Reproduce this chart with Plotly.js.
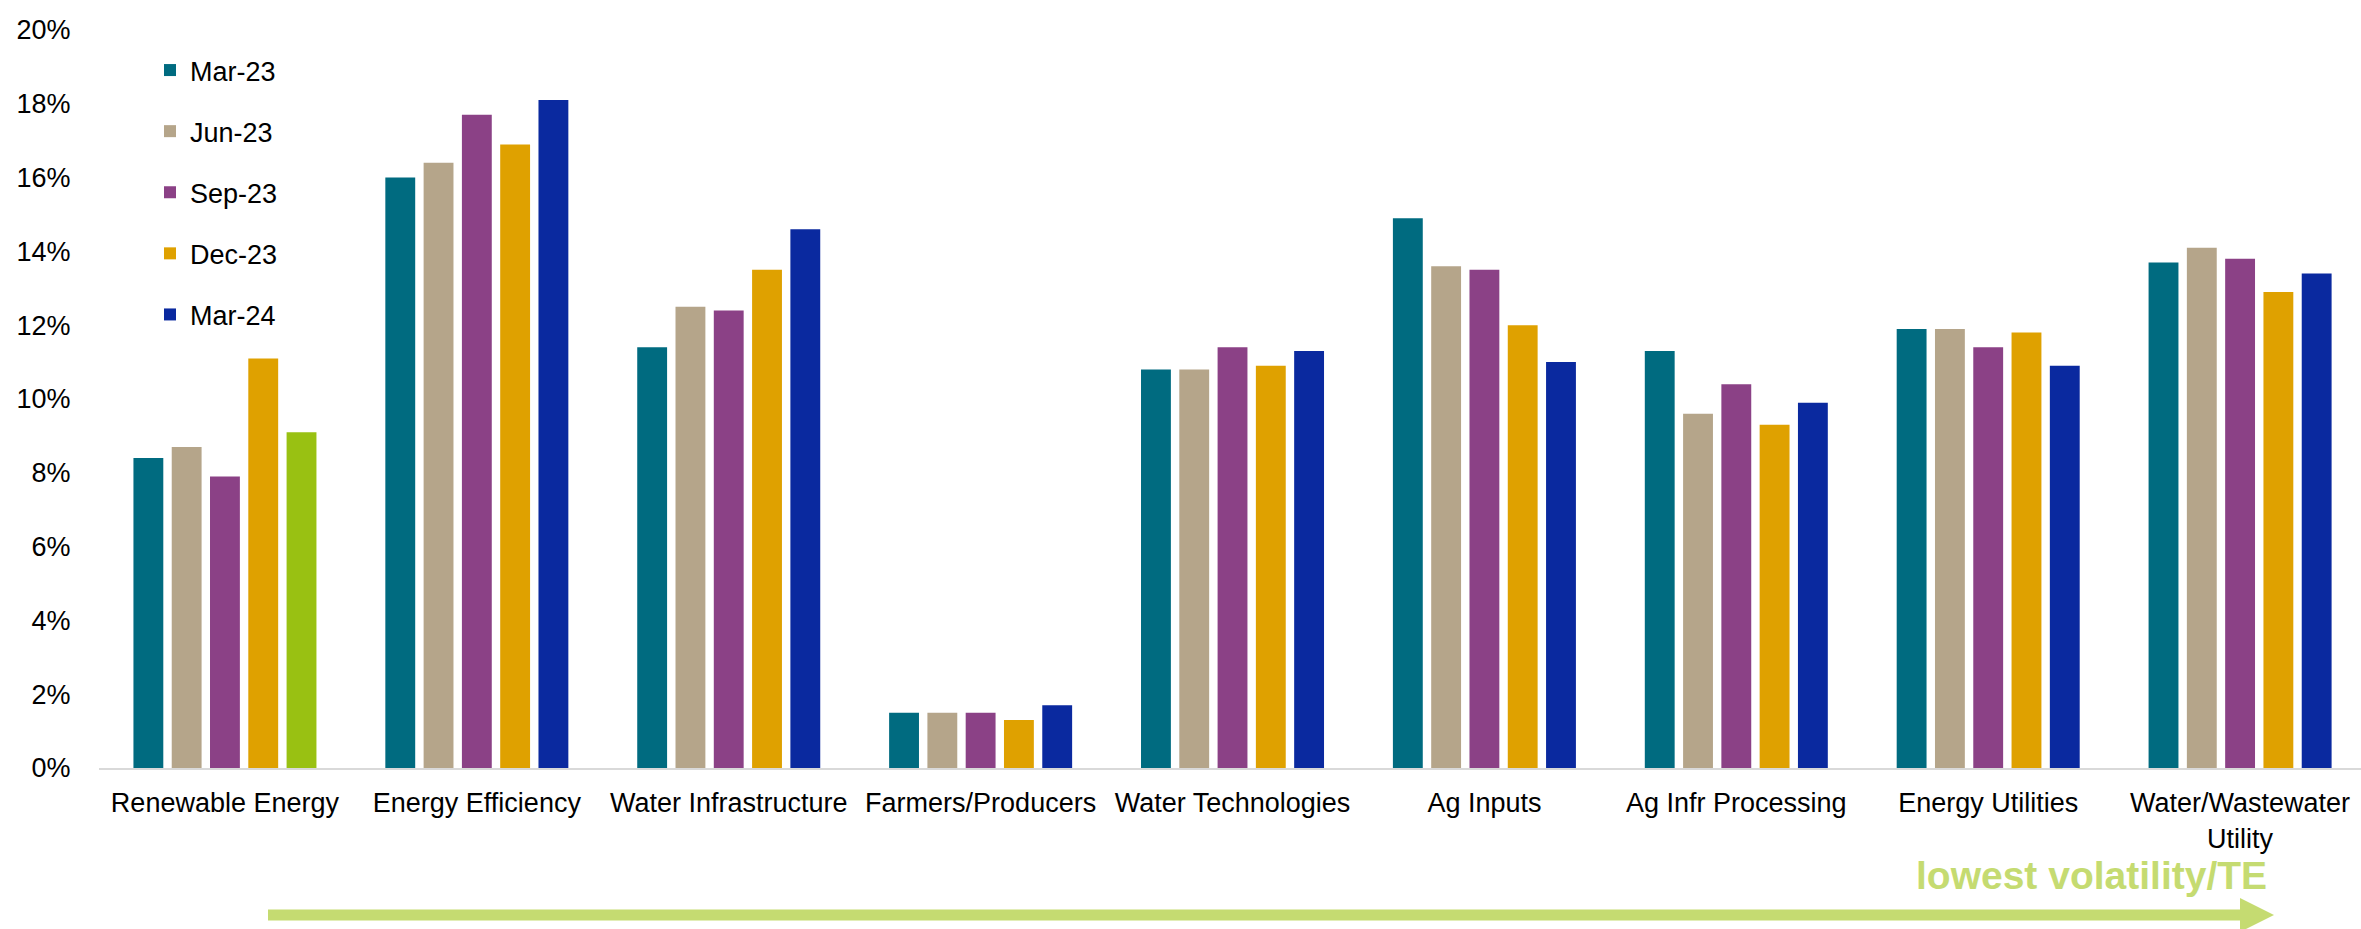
<!DOCTYPE html>
<html>
<head>
<meta charset="utf-8">
<script src="https://cdn.plot.ly/plotly-3.0.1.min.js"></script>
<style>
  html, body { margin: 0; padding: 0; background: #ffffff; }
  #chart { width: 2361px; height: 929px; }
</style>
</head>
<body>
<div id="chart"></div>
<script>
// Sector volatility / tracking error by quarter (in %)
const categories = [
  'Renewable Energy', 'Energy Efficiency', 'Water Infrastructure', 'Farmers/Producers',
  'Water Technologies', 'Ag Inputs', 'Ag Infr Processing', 'Energy Utilities',
  'Water/Wastewater<br>Utility'
];
const seriesNames = ['Mar-23', 'Jun-23', 'Sep-23', 'Dec-23', 'Mar-24'];
const mar23 = [8.4, 16.0, 11.4, 1.5, 10.8, 14.9, 11.3, 11.9, 13.7];
const jun23 = [8.7, 16.4, 12.5, 1.5, 10.8, 13.6, 9.6, 11.9, 14.1];
const sep23 = [7.9, 17.7, 12.4, 1.5, 11.4, 13.5, 10.4, 11.4, 13.8];
const dec23 = [11.1, 16.9, 13.5, 1.3, 10.9, 12.0, 9.3, 11.8, 12.9];
const mar24 = [9.1, 18.1, 14.6, 1.7, 11.3, 11.0, 9.9, 10.9, 13.4];
const highlightCategory = 'Renewable Energy';   // latest bar picked out in green
const yTicks = [0, 2, 4, 6, 8, 10, 12, 14, 16, 18, 20];
const arrowLabel = 'lowest volatility/TE';

// Styling
const COLORS = ['#006B80', '#B5A58A', '#8B4186', '#DFA100', '#0A299F'];
const HIGHLIGHT = '#99C112';
const ARROW_GREEN = '#C5DB71';
const FONT = 'Arial, "Liberation Sans", sans-serif';

const W = 2361, H = 929;
const M = { l: 99, r: 0, t: 30, b: 161 };
const plotW = W - M.l - M.r, plotH = H - M.t - M.b;
const px = x => (x - M.l) / plotW;          // page x -> paper x
const py = y => (H - M.b - y) / plotH;      // page y -> paper y

const values = [mar23, jun23, sep23, dec23, mar24];
const traces = values.map((vals, k) => {
  let idx = categories.map((_, i) => i);
  let color = COLORS[k];
  if (k === values.length - 1) {
    // the highlighted point goes last so the legend swatch keeps the series colour
    const h = categories.indexOf(highlightCategory);
    idx = idx.filter(i => i !== h).concat([h]);
    color = idx.map(i => (i === h ? HIGHLIGHT : COLORS[k]));
  }
  return {
    type: 'bar',
    name: seriesNames[k],
    x: idx.map(i => categories[i]),
    y: idx.map(i => vals[i]),
    legendgroup: 'g' + k,
    marker: { color: color, line: { width: 0 } },
    hoverinfo: 'x+y+name'
  };
});

const layout = {
  width: W, height: H,
  margin: M,
  paper_bgcolor: '#ffffff',
  plot_bgcolor: '#ffffff',
  font: { family: FONT, size: 27, color: '#000000' },
  barmode: 'group',
  bargap: 0.24,
  bargroupgap: 0.22,
  showlegend: true,
  legend: {
    x: px(150), y: py(46), xanchor: 'left', yanchor: 'top',
    bgcolor: 'rgba(0,0,0,0)',
    font: { family: FONT, size: 27, color: '#000000' },
    tracegroupgap: 23,
    traceorder: 'grouped',
    itemclick: false
  },
  xaxis: {
    type: 'category',
    categoryorder: 'array',
    categoryarray: categories,
    range: [-0.5, 8.48],
    showline: true, linecolor: '#D9D9D9', linewidth: 2,
    showgrid: false, zeroline: false,
    ticks: 'outside', ticklen: 10, tickcolor: 'rgba(0,0,0,0)',
    tickangle: 0,
    tickfont: { family: FONT, size: 27, color: '#000000' }
  },
  yaxis: {
    range: [0, 20],
    tickvals: yTicks,
    ticktext: yTicks.map(v => v + '%'),
    showline: false, showgrid: false, zeroline: false,
    ticks: 'outside', ticklen: 22, tickcolor: 'rgba(0,0,0,0)',
    tickfont: { family: FONT, size: 27, color: '#000000' }
  },
  shapes: [
    {
      type: 'line', xref: 'paper', yref: 'paper',
      x0: px(268), x1: px(2242), y0: py(915), y1: py(915),
      line: { color: ARROW_GREEN, width: 11 }
    },
    {
      type: 'path', xref: 'paper', yref: 'paper',
      path: `M ${px(2240)} ${py(898)} L ${px(2274)} ${py(915)} L ${px(2240)} ${py(932)} Z`,
      fillcolor: ARROW_GREEN, line: { width: 0 }
    }
  ],
  annotations: [
    {
      xref: 'paper', yref: 'paper',
      x: px(2269), y: py(876), xanchor: 'right', yanchor: 'middle',
      text: '<b>' + arrowLabel + '</b>', showarrow: false,
      font: { family: FONT, size: 39, color: ARROW_GREEN }
    }
  ]
};

Plotly.newPlot('chart', traces, layout, { displayModeBar: false, staticPlot: true });
</script>
</body>
</html>
